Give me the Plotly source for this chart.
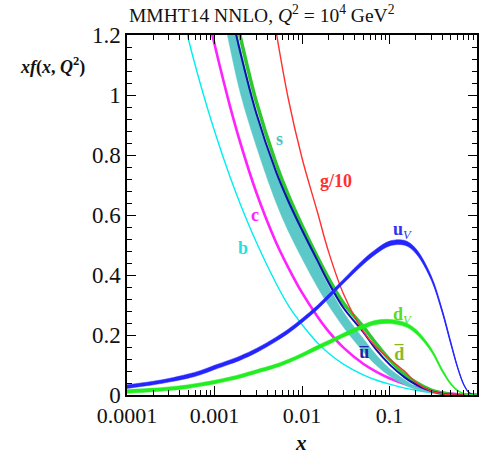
import math
import plotly.graph_objects as go

# ---- data ----
X = [1e-4, 2e-4, 3e-4, 5e-4, 7e-4, 1e-3, 1.5e-3, 2e-3, 3e-3, 5e-3, 7e-3, 0.01, 0.015, 0.02,
     0.03, 0.05, 0.07, 0.1, 0.15, 0.2, 0.3, 0.4, 0.5, 0.6, 0.7, 0.8, 0.9, 1.0]

b_q = [2.4, 1.77, 1.49, 1.19, 1.03, 0.88, 0.728, 0.632, 0.51, 0.375, 0.298, 0.235, 0.174, 0.14,
       0.102, 0.067, 0.05, 0.036, 0.023, 0.016, 0.0087, 0.005, 0.0028, 0.0015, 0.0007, 0.0002, 0.00003, 0.0]
c_q = [3.18, 2.36, 1.97, 1.58, 1.37, 1.17, 0.964, 0.835, 0.676, 0.512, 0.424, 0.341, 0.262, 0.213,
       0.157, 0.104, 0.078, 0.056, 0.037, 0.026, 0.014, 0.008, 0.0045, 0.0024, 0.0011, 0.0004, 0.00006, 0.0]
s_lo = [3.67, 2.76, 2.33, 1.89, 1.645, 1.42, 1.16, 1.0, 0.83, 0.645, 0.545, 0.455, 0.36, 0.3,
        0.225, 0.145, 0.1, 0.063, 0.033, 0.018, 0.0058, 0.0017, 0.00045, 0.00012, 0.00003, 0.0, 0.0, 0.0]
s_hi = [3.93, 2.95, 2.5, 2.02, 1.76, 1.52, 1.30, 1.15, 0.94, 0.745, 0.66, 0.56, 0.44, 0.365,
        0.275, 0.188, 0.135, 0.088, 0.05, 0.028, 0.0098, 0.0029, 0.00075, 0.0002, 0.00005, 0.0, 0.0, 0.0]
ubar = [3.8, 2.9, 2.48, 2.03, 1.77, 1.54, 1.295, 1.135, 0.94, 0.748, 0.645, 0.55, 0.448, 0.376,
        0.289, 0.21, 0.152, 0.102, 0.058, 0.035, 0.013, 0.0045, 0.0014, 0.0004, 0.0001, 0.00002, 0.0, 0.0]
dbar = [4.0, 3.05, 2.6, 2.12, 1.84, 1.60, 1.35, 1.186, 0.978, 0.775, 0.665, 0.565, 0.46, 0.39,
        0.305, 0.228, 0.172, 0.118, 0.068, 0.042, 0.016, 0.0058, 0.0018, 0.0005, 0.00013, 0.00003, 0.0, 0.0]
g_10 = [8.5, 6.8, 5.8, 4.6, 3.9, 3.2, 2.5, 2.1, 1.63, 1.22, 0.985, 0.79, 0.61, 0.48,
        0.335, 0.213, 0.16, 0.12, 0.078, 0.042, 0.013, 0.004, 0.0012, 0.0003, 0.0001, 0.0, 0.0, 0.0]
u_v = [0.028, 0.04, 0.049, 0.063, 0.075, 0.092, 0.11, 0.124, 0.148, 0.185, 0.213, 0.248, 0.292, 0.328,
       0.38, 0.443, 0.478, 0.505, 0.507, 0.48, 0.39, 0.28, 0.175, 0.092, 0.037, 0.01, 0.0015, 0.0]
u_v_err = [0.006, 0.006, 0.006, 0.007, 0.007, 0.007, 0.007, 0.007, 0.007, 0.007, 0.007, 0.007, 0.007, 0.007,
           0.007, 0.008, 0.008, 0.008, 0.008, 0.008, 0.007, 0.006, 0.005, 0.003, 0.0015, 0.0005, 0.0001, 0.0]
d_v = [0.012, 0.017, 0.021, 0.028, 0.035, 0.043, 0.054, 0.063, 0.078, 0.097, 0.113, 0.133, 0.158, 0.175,
       0.2, 0.228, 0.242, 0.245, 0.235, 0.212, 0.15, 0.082, 0.038, 0.015, 0.005, 0.0012, 0.0002, 0.0]
d_v_err = [0.006, 0.006, 0.006, 0.006, 0.006, 0.006, 0.006, 0.006, 0.006, 0.006, 0.006, 0.006, 0.007, 0.007,
           0.007, 0.007, 0.007, 0.007, 0.007, 0.007, 0.006, 0.005, 0.003, 0.0015, 0.0006, 0.0002, 0.0, 0.0]

X_TICKS = [1e-4, 1e-3, 1e-2, 1e-1, 1.0]
X_TICK_LABELS = ["0.0001", "0.001", "0.01", "0.1", "1"]
X_MINOR = [k * 10.0 ** d for d in range(-4, 0) for k in range(2, 10)]

# label text, x, y, colour
LABELS = [
    ("<b>s</b>", 5.5e-3, 0.855, "#4fc4c4"),
    ("<b>g/10</b>", 0.0245, 0.715, "#ff3030"),
    ("<b>c</b>", 2.9e-3, 0.60, "#ff22ff"),
    ("<b>b</b>", 2.1e-3, 0.49, "#22e0e0"),
    ("<b>u</b><i><sub>V</sub></i>", 0.142, 0.55, "#3333ee"),
    ("<b>d</b><i><sub>V</sub></i>", 0.142, 0.265, "#55dd22"),
    ("<b>u\u0305</b>", 0.051, 0.143, "#2222aa"),
    ("<b>d\u0305</b>", 0.13, 0.14, "#88bb22"),
]

fig = go.Figure()


def add_line(y, color, width):
    fig.add_trace(go.Scatter(x=X, y=y, mode="lines", hoverinfo="skip",
                             line=dict(color=color, width=width, shape="spline", smoothing=1.0)))


def add_band(lo, hi, color):
    fig.add_trace(go.Scatter(x=X + X[::-1], y=lo + hi[::-1], mode="lines", fill="toself",
                             fillcolor=color, hoverinfo="skip",
                             line=dict(color=color, width=0.5, shape="spline", smoothing=1.0)))


add_line(b_q, "#00eeee", 1.4)
add_line(c_q, "#ff22ff", 2.6)
add_band(s_lo, s_hi, "#5cc8c8")
add_line(dbar, "#2ec82e", 3.6)
add_line(ubar, "#1010b0", 2.0)
add_line(g_10, "#ff3030", 1.4)
add_band([a - e for a, e in zip(u_v, u_v_err)], [a + e for a, e in zip(u_v, u_v_err)], "#2525ff")
add_line(u_v, "#2525ff", 1.2)
add_band([a - e for a, e in zip(d_v, d_v_err)], [a + e for a, e in zip(d_v, d_v_err)], "#22ee22")
add_line(d_v, "#22ee22", 1.2)

for txt, xv, yv, col in LABELS:
    fig.add_annotation(x=math.log10(xv), y=yv, text=txt, showarrow=False,
                       font=dict(family="Liberation Serif", size=18, color=col))

fig.add_annotation(xref="paper", yref="paper", x=0.0, y=1.0, yshift=7, xanchor="left", yanchor="bottom",
                   text="MMHT14 NNLO, <i>Q</i><sup>2</sup> = 10<sup>4</sup> GeV<sup>2</sup>",
                   showarrow=False, font=dict(family="Liberation Serif", size=19.5, color="#111"))
fig.add_annotation(xref="paper", yref="paper", x=-0.115, y=0.915, xanchor="right", yanchor="middle",
                   text="<b><i>xf</i>(<i>x</i>, <i>Q</i><sup>2</sup>)</b>",
                   showarrow=False, font=dict(family="Liberation Serif", size=18, color="#111"))
fig.add_annotation(xref="paper", yref="paper", x=0.497, y=-0.133, xanchor="center", yanchor="middle",
                   text="<b><i>x</i></b>", showarrow=False,
                   font=dict(family="Liberation Serif", size=21, color="#111"))

fig.update_layout(
    width=481, height=454,
    margin=dict(l=127, r=2, t=35, b=59),
    paper_bgcolor="white", plot_bgcolor="white", showlegend=False,
    font=dict(family="Liberation Serif", color="#111"),
    xaxis=dict(type="log", range=[-4, 0], tickmode="array", tickvals=X_TICKS, ticktext=X_TICK_LABELS,
               ticks="inside", ticklen=9, tickwidth=1.3, tickcolor="black",
               showline=True, linecolor="black", linewidth=1.5, mirror="ticks",
               showgrid=False, zeroline=False, tickfont=dict(size=22),
               minor=dict(tickmode="array", tickvals=X_MINOR, ticks="inside", ticklen=5,
                          tickwidth=1.2, tickcolor="black", showgrid=False)),
    yaxis=dict(range=[0, 1.2], tick0=0, dtick=0.2, ticks="inside", ticklen=9, tickwidth=1.3,
               tickcolor="black", showline=True, linecolor="black", linewidth=1.5, mirror="ticks",
               showgrid=False, zeroline=False, tickfont=dict(size=23),
               minor=dict(dtick=0.04, ticks="inside", ticklen=5, tickwidth=1.2, tickcolor="black",
                          showgrid=False)),
)

fig.write_html("out.html")
